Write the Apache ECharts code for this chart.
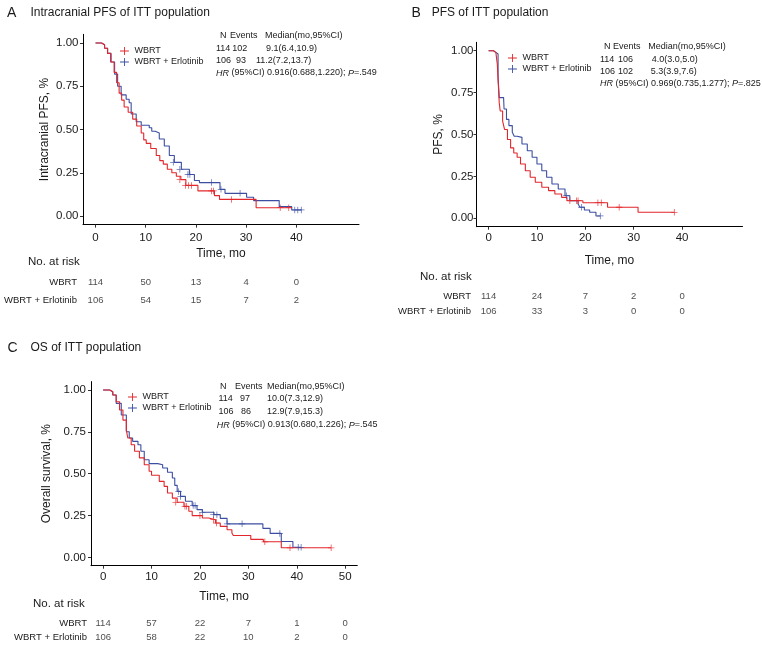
<!DOCTYPE html>
<html><head><meta charset="utf-8">
<script src="https://cdn.jsdelivr.net/npm/echarts@6/dist/echarts.min.js"></script>
<style>html,body{margin:0;padding:0;background:#fff}#chart{width:762px;height:645px}</style>
</head><body><div id="chart"></div>
<script>
// ---------- data ----------
const abTicks = [0, 10, 20, 30, 40];
const cTicks = [0, 10, 20, 30, 40, 50];
const yTicks = [0, 0.25, 0.5, 0.75, 1];
const seriesNames = ['WBRT', 'WBRT + Erlotinib'];
const riskRows = ['WBRT', 'WBRT + Erlotinib'];

// Panel A: intracranial PFS  [time, survival]
const aWbrt = [[0,1],[1.2,0.99],[1.8,0.97],[2.4,0.94],[3.0,0.89],[3.7,0.83],[4.2,0.77],[4.7,0.71],[5.2,0.67],[5.7,0.63],[6.5,0.60],[7.4,0.56],[8.2,0.52],[9.1,0.48],[9.6,0.44],[10.1,0.42],[11.0,0.39],[12.1,0.35],[12.8,0.32],[13.5,0.30],[14.3,0.27],[15.2,0.25],[16.1,0.23],[17.0,0.21],[18.0,0.177],[20.4,0.145],[23.7,0.118],[24.7,0.096],[32.0,0.048],[39.1,0.048]];
const aWbrtCens = [[16.8,0.21],[17.9,0.177],[18.5,0.177],[19.1,0.177],[23.1,0.145],[23.5,0.145],[27.1,0.096],[36.8,0.048],[38.5,0.048]];
const aErlo = [[0,1],[1.2,0.99],[1.8,0.97],[2.4,0.94],[3.1,0.89],[3.8,0.82],[4.4,0.75],[5.1,0.70],[6.1,0.675],[6.7,0.655],[7.1,0.59],[8.1,0.545],[9.1,0.525],[10.7,0.51],[11.2,0.49],[11.9,0.48],[12.7,0.445],[13.7,0.405],[14.7,0.35],[15.7,0.31],[17.1,0.27],[18.7,0.24],[19.7,0.205],[20.7,0.193],[24.8,0.154],[25.8,0.131],[30.1,0.108],[31.5,0.089],[36.6,0.054],[39.1,0.035],[41.1,0.035]];
const aErloCens = [[15.5,0.31],[16.8,0.27],[18.4,0.24],[18.8,0.24],[23.1,0.193],[25.0,0.154],[28.8,0.131],[39.7,0.035],[40.3,0.035],[41.0,0.035]];
const aRiskWbrt = [114, 50, 13, 4, 0];
const aRiskErlo = [106, 54, 15, 7, 2];
const aStats = [['114', '102', '9.1(6.4,10.9)'], ['106', '93', '11.2(7.2,13.7)']];
const aHR = ['0.916(0.688,1.220)', '.549'];

// Panel B: PFS
const bWbrt = [[0,1],[1.0,0.99],[1.5,0.98],[1.8,0.92],[2.2,0.69],[2.4,0.64],[2.9,0.58],[3.3,0.53],[3.9,0.47],[4.55,0.42],[5.2,0.39],[5.9,0.364],[6.6,0.324],[7.6,0.284],[8.6,0.245],[9.65,0.215],[11.0,0.185],[12.4,0.165],[13.7,0.145],[15.1,0.125],[16.2,0.105],[19.5,0.093],[24.6,0.066],[30.9,0.036],[38.4,0.036]];
const bWbrtCens = [[16.8,0.105],[18.2,0.105],[18.5,0.105],[22.6,0.093],[23.3,0.093],[27.0,0.066],[38.4,0.036]];
const bErlo = [[0,1],[1.0,0.99],[1.5,0.98],[1.96,0.84],[2.2,0.72],[3.1,0.71],[3.2,0.652],[3.7,0.59],[4.2,0.553],[4.9,0.513],[5.3,0.49],[5.9,0.483],[6.9,0.443],[8.0,0.403],[9.0,0.364],[10.0,0.324],[11.0,0.284],[12.0,0.245],[13.1,0.205],[14.4,0.175],[15.8,0.135],[16.8,0.105],[18.5,0.085],[18.9,0.066],[19.8,0.05],[20.9,0.036],[22.2,0.014],[23.1,0.014]];
const bErloCens = [[16.1,0.135],[19.2,0.066],[23.1,0.014]];
const bRiskWbrt = [114, 24, 7, 2, 0];
const bRiskErlo = [106, 33, 3, 0, 0];
const bStats = [['114', '106', '4.0(3.0,5.0)'], ['106', '102', '5.3(3.9,7.6)']];
const bHR = ['0.969(0.735,1.277)', '.825'];

// Panel C: OS
const cWbrt = [[0,1],[1.35,0.99],[2.0,0.97],[2.7,0.93],[3.4,0.88],[4.1,0.82],[4.8,0.76],[5.1,0.713],[5.8,0.673],[6.5,0.634],[7.5,0.594],[8.5,0.553],[9.5,0.514],[10.0,0.49],[11.6,0.454],[12.6,0.424],[13.3,0.384],[14.3,0.354],[15.3,0.329],[16.7,0.305],[17.7,0.275],[18.4,0.249],[20.5,0.235],[21.8,0.225],[23.2,0.205],[24.2,0.185],[25.6,0.165],[26.6,0.145],[26.9,0.13],[30.5,0.107],[33.1,0.093],[36.8,0.057],[47.1,0.057]];
const cWbrtCens = [[15.0,0.329],[16.9,0.305],[17.2,0.305],[20.0,0.249],[22.8,0.225],[23.4,0.205],[33.4,0.093],[38.6,0.057],[47.1,0.057]];
const cErlo = [[0,1],[1.35,0.99],[2.0,0.97],[2.7,0.92],[3.75,0.85],[4.8,0.75],[5.4,0.713],[6.1,0.693],[7.2,0.673],[7.8,0.634],[8.5,0.583],[9.5,0.56],[11.3,0.553],[12.3,0.534],[13.3,0.508],[14.3,0.474],[14.8,0.43],[15.3,0.394],[16.0,0.364],[17.0,0.335],[18.4,0.309],[19.4,0.285],[20.5,0.269],[22.9,0.255],[24.2,0.233],[25.6,0.2],[33.0,0.173],[34.5,0.143],[36.8,0.095],[39.2,0.06],[40.9,0.06]];
const cErloCens = [[15.6,0.394],[16.0,0.364],[18.6,0.309],[19.0,0.309],[20.5,0.269],[22.8,0.255],[23.5,0.255],[25.6,0.2],[28.7,0.2],[36.5,0.143],[40.3,0.06],[40.9,0.06]];
const cRiskWbrt = [114, 57, 22, 7, 1, 0];
const cRiskErlo = [106, 58, 22, 10, 2, 0];
const cStats = [['114', '97', '10.0(7.3,12.9)'], ['106', '86', '12.9(7.9,15.3)']];
const cHR = ['0.913(0.680,1.226)', '.545'];

// ---------- style / layout ----------
const FONT = '"Liberation Sans", Arial, Helvetica, sans-serif';
const RED = '#e3262b', BLUE = '#3b4ea1', INK = '#1a1a1a';
const COLORS = [RED, BLUE];
const CROSS = 'path://M-1,-0.12H1V0.12H-1Z M-0.12,-1H0.12V1H-0.12Z';
const LEG_ICON = 'path://M0,4.5H10V5.5H0Z M4.5,0.5H5.5V9.5H4.5Z';

const panels = [
  { letter: 'A', title: 'Intracranial PFS of ITT population', letterPos: [7, 12.7], titlePos: [30.5, 12.7],
    plot: { left: 83, top: 34.35, width: 276, height: 190.3 }, risk: { top: 274, height: 34.6 },
    ticks: abTicks, yName: 'Intracranial PFS, %', yGap: 32, yLabelMargin: 4.5, xLabelMargin: 7, xGap: 23, riskMargin: 6,
    curves: [aWbrt, aErlo], cens: [aWbrtCens, aErloCens], counts: [aRiskWbrt, aRiskErlo],
    legend: { left: 120, top: 46.5 }, noRisk: [28, 262],
    stats: aStats, hr: aHR,
    statPos: { headY: 36, rowY: [48.8, 60.6], hrY: 73, head: [220, 230, 265], cols: [[216, 232.3, 266], [216, 236, 256]], hrX: 216 } },
  { letter: 'B', title: 'PFS of ITT population', letterPos: [411.5, 12.7], titlePos: [431.7, 12.7],
    plot: { left: 476.5, top: 42.3, width: 266, height: 184.4 }, risk: { top: 288.2, height: 31.4 },
    ticks: abTicks, yName: 'PFS, %', yGap: 32, yLabelMargin: 3, xLabelMargin: 5.6, xGap: 28, riskMargin: 5.5,
    curves: [bWbrt, bErlo], cens: [bWbrtCens, bErloCens], counts: [bRiskWbrt, bRiskErlo],
    legend: { left: 508, top: 53.5 }, noRisk: [420, 276.7],
    stats: bStats, hr: bHR,
    statPos: { headY: 47, rowY: [59.2, 71.5], hrY: 83.7, head: [604, 613, 648.3], cols: [[600, 618, 651.7], [600, 618, 650.7]], hrX: 600 } },
  { letter: 'C', title: 'OS of ITT population', letterPos: [7.5, 348], titlePos: [30.5, 348],
    plot: { left: 91, top: 381.6, width: 266.3, height: 184.1 }, risk: { top: 616.1, height: 28.8 },
    ticks: cTicks, yName: 'Overall survival, %', yGap: 38, yLabelMargin: 5, xLabelMargin: 5.6, xGap: 25, riskMargin: 4,
    curves: [cWbrt, cErlo], cens: [cWbrtCens, cErloCens], counts: [cRiskWbrt, cRiskErlo],
    legend: { left: 128, top: 392.5 }, noRisk: [33, 604],
    stats: cStats, hr: cHR,
    statPos: { headY: 386.3, rowY: [398.2, 411.8], hrY: 425, head: [220, 235, 267], cols: [[218.5, 240, 267], [218.5, 241, 267]], hrX: 216.7 } }
];

// ---------- build option ----------
const grid = [], xAxis = [], yAxis = [], series = [], legend = [], graphic = [];
function txt(x, y, text, size, extra) {
  return { type: 'text', x: x, y: y, silent: true,
    style: Object.assign({ text: text, fill: INK, fontSize: size, fontFamily: FONT, align: 'left', verticalAlign: 'middle' }, extra || {}) };
}
panels.forEach(function (p, pi) {
  const gPlot = pi * 2, gRisk = pi * 2 + 1;
  grid.push(Object.assign({ containLabel: false }, p.plot));
  grid.push({ left: p.plot.left, width: p.plot.width, top: p.risk.top, height: p.risk.height, containLabel: false });
  xAxis.push({ gridIndex: gPlot, type: 'value', min: -2.5, max: 52.5,
    axisLine: { onZero: false, lineStyle: { color: '#000', width: 1 } },
    axisTick: { show: true, customValues: p.ticks, length: 3, lineStyle: { color: '#333' } },
    axisLabel: { customValues: p.ticks, margin: p.xLabelMargin, fontSize: 11.5, color: INK, fontFamily: FONT },
    splitLine: { show: false },
    name: 'Time, mo', nameLocation: 'middle', nameGap: p.xGap, nameTextStyle: { fontSize: 12, color: INK, fontFamily: FONT } });
  xAxis.push({ gridIndex: gRisk, type: 'value', min: -2.5, max: 52.5, show: false });
  yAxis.push({ gridIndex: gPlot, type: 'value', min: -0.05, max: 1.05,
    axisLine: { show: true, onZero: false, lineStyle: { color: '#000', width: 1 } },
    axisTick: { show: true, customValues: yTicks, length: 3, lineStyle: { color: '#333' } },
    axisLabel: { customValues: yTicks, formatter: function (v) { return v.toFixed(2); }, margin: p.yLabelMargin, fontSize: 11.5, color: INK, fontFamily: FONT },
    splitLine: { show: false },
    name: p.yName, nameLocation: 'middle', nameGap: p.yGap, nameTextStyle: { fontSize: 12, color: INK, fontFamily: FONT } });
  yAxis.push({ gridIndex: gRisk, type: 'category', inverse: true, data: riskRows,
    axisLine: { show: false }, axisTick: { show: false }, splitLine: { show: false },
    axisLabel: { margin: p.riskMargin, fontSize: 9.5, color: INK, fontFamily: FONT } });

  p.curves.forEach(function (c, si) {
    series.push({ name: seriesNames[si], type: 'line', step: 'end', xAxisIndex: gPlot, yAxisIndex: gPlot,
      data: c, symbol: 'none', showSymbol: false, color: COLORS[si],
      lineStyle: { color: COLORS[si], width: 1.1 }, itemStyle: { color: COLORS[si] }, z: 3 - si });
    series.push({ name: seriesNames[si] + ' censored', type: 'scatter', xAxisIndex: gPlot, yAxisIndex: gPlot,
      data: p.cens[si], symbol: CROSS, symbolSize: 6.5, itemStyle: { color: COLORS[si] }, z: 4 - si, silent: true });
  });
  p.counts.forEach(function (row, ri) {
    series.push({ name: 'risk ' + p.letter + ri, type: 'scatter', xAxisIndex: gRisk, yAxisIndex: gRisk,
      data: p.ticks.map(function (t, i) { return [t, ri, row[i]]; }),
      symbolSize: 1, itemStyle: { color: 'rgba(0,0,0,0)' }, silent: true,
      label: { show: true, position: 'inside', formatter: function (q) { return String(q.value[2]); }, fontSize: 9.5, color: INK, fontFamily: FONT } });
  });

  legend.push({ left: p.legend.left, top: p.legend.top, orient: 'vertical', padding: 0, itemWidth: 10, itemHeight: 8, itemGap: 2,
    selectedMode: false, data: seriesNames.map(function (n) { return { name: n, icon: LEG_ICON }; }),
    textStyle: { fontSize: 9, color: INK, fontFamily: FONT } });

  graphic.push(txt(p.letterPos[0], p.letterPos[1], p.letter, 14));
  graphic.push(txt(p.titlePos[0], p.titlePos[1], p.title, 12));
  graphic.push(txt(p.noRisk[0], p.noRisk[1], 'No. at risk', 11.5));
  const sp = p.statPos;
  ['N', 'Events', 'Median(mo,95%CI)'].forEach(function (h, i) { graphic.push(txt(sp.head[i], sp.headY, h, 9)); });
  p.stats.forEach(function (row, ri) {
    row.forEach(function (v, ci) { graphic.push(txt(sp.cols[ri][ci], sp.rowY[ri], v, 9)); });
  });
  graphic.push(txt(sp.hrX, sp.hrY, '{i|HR} (95%CI) ' + p.hr[0] + '; {i|P}=' + p.hr[1], 9,
    { rich: { i: { fontStyle: 'italic', fontSize: 9, fontFamily: FONT, fill: INK } } }));
});

const chart = echarts.init(document.getElementById('chart'), null, { renderer: 'canvas' });
chart.setOption({ backgroundColor: '#ffffff', animation: false, grid: grid, xAxis: xAxis, yAxis: yAxis,
  series: series, legend: legend, graphic: graphic });
</script></body></html>
